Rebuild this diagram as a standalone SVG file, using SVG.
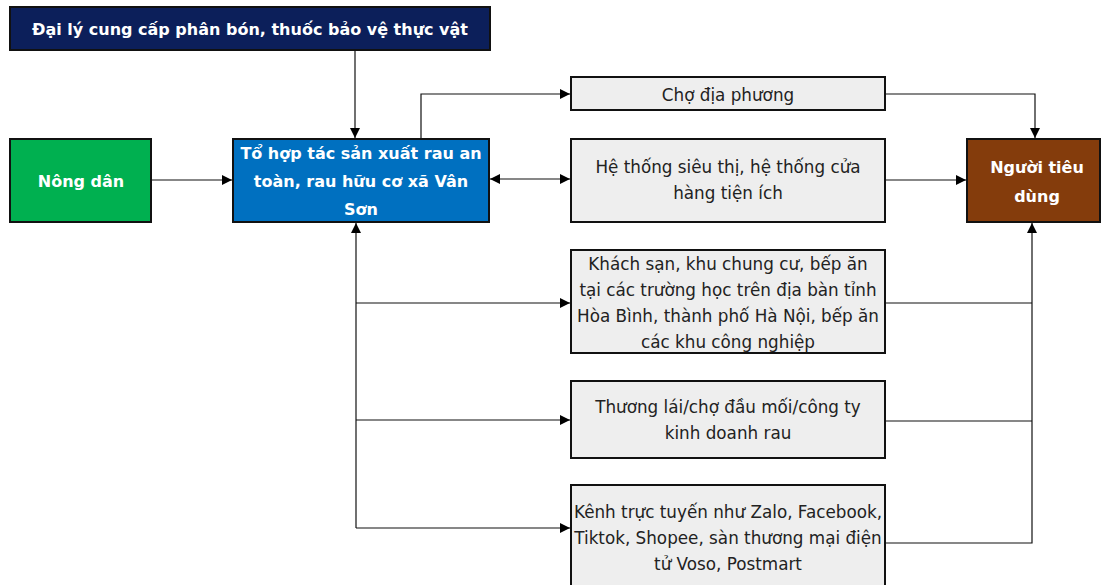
<svg xmlns="http://www.w3.org/2000/svg" width="1101" height="585" viewBox="0 0 1101 585">
<defs>
<marker id="ah" viewBox="0 0 10 10" refX="10" refY="5" markerWidth="10" markerHeight="10" markerUnits="userSpaceOnUse" orient="auto-start-reverse">
<path d="M0,0 L10,5 L0,10 z" fill="#000"/>
</marker>
<style>
.box{stroke:#111;stroke-width:2}
.gray{fill:#eeeeee}
.bt{font-family:"DejaVu Sans","Noto Sans",sans-serif;font-weight:bold;font-size:16px;fill:#fff;text-anchor:middle;dominant-baseline:central}
.nt{font-family:"DejaVu Sans","Noto Sans",sans-serif;font-size:16.8px;fill:#222;text-anchor:middle;dominant-baseline:central}
.ln{fill:none;stroke:#111;stroke-width:1.2}
</style>
</defs>
<rect width="1101" height="585" fill="#fff"/>
<g id="connectors">
<path class="ln" d="M355,50 V138" marker-end="url(#ah)"/>
<path class="ln" d="M151,180 H232" marker-end="url(#ah)"/>
<path class="ln" d="M490,179 H570" marker-start="url(#ah)" marker-end="url(#ah)"/>
<path class="ln" d="M421,139 V94 H570" marker-end="url(#ah)"/>
<path class="ln" d="M885,94 H1035 V138" marker-end="url(#ah)"/>
<path class="ln" d="M885,180 H966" marker-end="url(#ah)"/>
<path class="ln" d="M356,528 V223" marker-end="url(#ah)"/>
<path class="ln" d="M356,303 H570" marker-end="url(#ah)"/>
<path class="ln" d="M356,420 H570" marker-end="url(#ah)"/>
<path class="ln" d="M356,528 H570" marker-end="url(#ah)"/>
<path class="ln" d="M885,303 H1032"/>
<path class="ln" d="M885,421 H1032"/>
<path class="ln" d="M885,543 H1032 V223" marker-end="url(#ah)"/>
</g>
<g id="dai-ly">
<rect class="box" x="10" y="7" width="480" height="43" fill="#0c1f5a"/>
<text class="bt" x="250" y="29">Đại lý cung cấp phân bón, thuốc bảo vệ thực vật</text>
</g>
<g id="nong-dan">
<rect class="box" x="10" y="139" width="141" height="83" fill="#00b050"/>
<text class="bt" x="81" y="181">Nông dân</text>
</g>
<g id="to-hop-tac">
<rect class="box" x="233" y="139" width="256" height="83" fill="#0070c0"/>
<text class="bt" x="361" y="153">Tổ hợp tác sản xuất rau an</text>
<text class="bt" x="361" y="181">toàn, rau hữu cơ xã Vân</text>
<text class="bt" x="361" y="209">Sơn</text>
</g>
<g id="cho-dia-phuong">
<rect class="box gray" x="571" y="77" width="314" height="33"/>
<text class="nt" x="728" y="95">Chợ địa phương</text>
</g>
<g id="he-thong">
<rect class="box gray" x="571" y="139" width="314" height="83"/>
<text class="nt" x="728" y="167">Hệ thống siêu thị, hệ thống cửa</text>
<text class="nt" x="728" y="193">hàng tiện ích</text>
</g>
<g id="nguoi-tieu-dung">
<rect class="box" x="967" y="139" width="133" height="83" fill="#843c0c"/>
<text class="bt" x="1037" y="167">Người tiêu</text>
<text class="bt" x="1037" y="196">dùng</text>
</g>
<g id="khach-san">
<rect class="box gray" x="571" y="250" width="314" height="103"/>
<text class="nt" x="728" y="264">Khách sạn, khu chung cư, bếp ăn</text>
<text class="nt" x="728" y="290">tại các trường học trên địa bàn tỉnh</text>
<text class="nt" x="728" y="316">Hòa Bình, thành phố Hà Nội, bếp ăn</text>
<text class="nt" x="728" y="342">các khu công nghiệp</text>
</g>
<g id="thuong-lai">
<rect class="box gray" x="571" y="381" width="314" height="77"/>
<text class="nt" x="728" y="407">Thương lái/chợ đầu mối/công ty</text>
<text class="nt" x="728" y="433">kinh doanh rau</text>
</g>
<g id="kenh-truc-tuyen">
<rect class="box gray" x="571" y="485" width="314" height="110"/>
<text class="nt" x="728" y="512">Kênh trực tuyến như Zalo, Facebook,</text>
<text class="nt" x="728" y="538">Tiktok, Shopee, sàn thương mại điện</text>
<text class="nt" x="728" y="564">tử Voso, Postmart</text>
</g>
</svg>
